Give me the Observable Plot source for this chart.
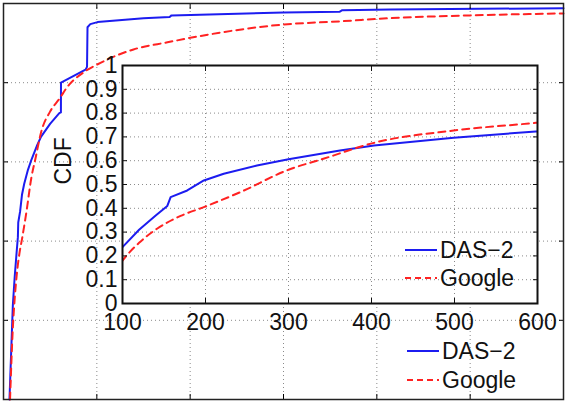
<!DOCTYPE html>
<html><head><meta charset="utf-8">
<script src="https://cdn.jsdelivr.net/npm/d3@7"></script>
<script src="https://cdn.jsdelivr.net/npm/@observablehq/plot@0.6"></script>
<style>
body{margin:0;background:#fff;}
#wrap{position:relative;width:568px;height:408px;font-family:"Liberation Sans",Arial,sans-serif;}
#wrap svg{position:absolute;left:0;top:0;}
</style></head><body><div id="wrap"></div>
<script>
// ---- data ----
const das2X = [64, 100, 120, 140, 154, 158, 178, 198, 222, 262, 300, 362, 403, 499, 598, 615, 616, 879, 895, 900, 930, 1007, 1500, 1780, 1800, 2004, 3000, 3600, 3630, 4146, 6000];
const das2Y = [0, 0.237, 0.31, 0.37, 0.41, 0.447, 0.475, 0.517, 0.545, 0.58, 0.606, 0.643, 0.664, 0.696, 0.723, 0.725, 0.80, 0.833, 0.84, 0.94, 0.948, 0.953, 0.963, 0.966, 0.97, 0.971, 0.977, 0.979, 0.983, 0.985, 0.988];
const googleX = [70, 100, 120, 142, 170, 198, 242, 300, 342, 403, 499, 598, 686, 857, 1039, 1393, 1757, 2111, 3000, 3611, 4146, 5004, 6000];
const googleY = [0, 0.18, 0.255, 0.315, 0.368, 0.405, 0.468, 0.562, 0.608, 0.675, 0.727, 0.759, 0.79, 0.826, 0.85, 0.884, 0.902, 0.918, 0.947, 0.955, 0.963, 0.970, 0.975];
const seriesNames = ["DAS\u22122", "Google"];
const seriesColors = ["#1c1cf0", "#ff2222"];
const outerXTicks = [0, 1000, 2000, 3000, 4000, 5000, 6000];
const outerYTicks = [0, 0.2, 0.4, 0.6, 0.8, 1];
const insetXTicks = [100, 200, 300, 400, 500, 600];
const insetYTicks = [0, 0.1, 0.2, 0.3, 0.4, 0.5, 0.6, 0.7, 0.8, 0.9, 1];
const insetYLabel = "CDF";

const das2 = das2X.map((x, i) => ({x, y: das2Y[i]}));
const google = googleX.map((x, i) => ({x, y: googleY[i]}));
const font = '"Liberation Sans", Arial, sans-serif';
const dotted = {stroke: "#8a8a8a", strokeOpacity: 1, strokeDasharray: "1,3", strokeWidth: 1};
const blueStyle = {x: "x", y: "y", stroke: seriesColors[0], strokeWidth: 2};
const redStyle = {x: "x", y: "y", stroke: seriesColors[1], strokeWidth: 2, strokeDasharray: "7,5", curve: "monotone-x"};
const noText = () => "";

const wrap = document.getElementById("wrap");

const outer = Plot.plot({
  width: 568, height: 408,
  marginLeft: 3, marginRight: 5, marginTop: 3, marginBottom: 9,
  x: {domain: [0, 6000]}, y: {domain: [0, 1]},
  style: {background: "transparent", fontFamily: font},
  marks: [
    Plot.gridX(outerXTicks.slice(1, -1), dotted),
    Plot.gridY(outerYTicks.slice(1, -1), dotted),
    Plot.line(das2, blueStyle),
    Plot.line(google, redStyle),
    Plot.axisX(outerXTicks, {anchor: "bottom", tickSize: -5, tickFormat: noText, label: null}),
    Plot.axisX(outerXTicks, {anchor: "top", tickSize: -5, tickFormat: noText, label: null}),
    Plot.axisY(outerYTicks, {anchor: "left", tickSize: -5, tickFormat: noText, label: null}),
    Plot.axisY(outerYTicks, {anchor: "right", tickSize: -5, tickFormat: noText, label: null}),
    Plot.frame({stroke: "#222", strokeWidth: 1.5})
  ]
});
wrap.appendChild(outer);

const inset = Plot.plot({
  width: 568, height: 408,
  marginLeft: 122, marginRight: 31, marginTop: 65, marginBottom: 105,
  x: {domain: [100, 600]}, y: {domain: [0, 1]},
  style: {background: "transparent", fontFamily: font, fontSize: "23px", color: "#111"},
  marks: [
    Plot.frame({fill: "white", stroke: "none"}),
    Plot.gridX(insetXTicks.slice(1, -1), dotted),
    Plot.gridY(insetYTicks.slice(1, -1), dotted),
    Plot.line(das2, {...blueStyle, clip: true}),
    Plot.line(google, {...redStyle, clip: true}),
    Plot.axisX(insetXTicks, {anchor: "bottom", tickSize: -5, tickFormat: noText, label: null}),
    Plot.axisX(insetXTicks, {anchor: "top", tickSize: -5, tickFormat: noText, label: null}),
    Plot.axisY(insetYTicks, {anchor: "left", tickSize: -5, tickFormat: noText, label: null}),
    Plot.axisY(insetYTicks, {anchor: "right", tickSize: -5, tickFormat: noText, label: null}),
    Plot.axisX(insetXTicks, {anchor: "bottom", tickSize: 0, tickPadding: 10, tickFormat: d => String(d), label: null, fontSize: 23}),
    Plot.axisY(insetYTicks, {anchor: "left", tickSize: 0, tickPadding: 5, tickFormat: d => String(d), label: null, fontSize: 23}),
    Plot.text([insetYLabel], {text: d => d, frameAnchor: "left", dx: -59, rotate: -90, fontSize: 23, fill: "#111"}),
    Plot.frame({stroke: "#111", strokeWidth: 2})
  ]
});
wrap.appendChild(inset);

// legends (inset and outer)
const svg = d3.select(wrap).append("svg").attr("width", 568).attr("height", 408)
  .style("font-family", font).style("font-size", "23px");
function legend(x0, ys) {
  seriesNames.forEach((name, i) => {
    const g = svg.append("g");
    g.append("line").attr("x1", x0).attr("x2", x0 + 32).attr("y1", ys[i]).attr("y2", ys[i])
      .attr("stroke", seriesColors[i]).attr("stroke-width", 2)
      .attr("stroke-dasharray", i === 1 ? "6,4" : null);
    g.append("text").attr("x", x0 + 35).attr("y", ys[i] + 8).attr("fill", "#111").text(name);
  });
}
legend(405, [250, 278]);
legend(407, [351, 380]);
</script></body></html>
